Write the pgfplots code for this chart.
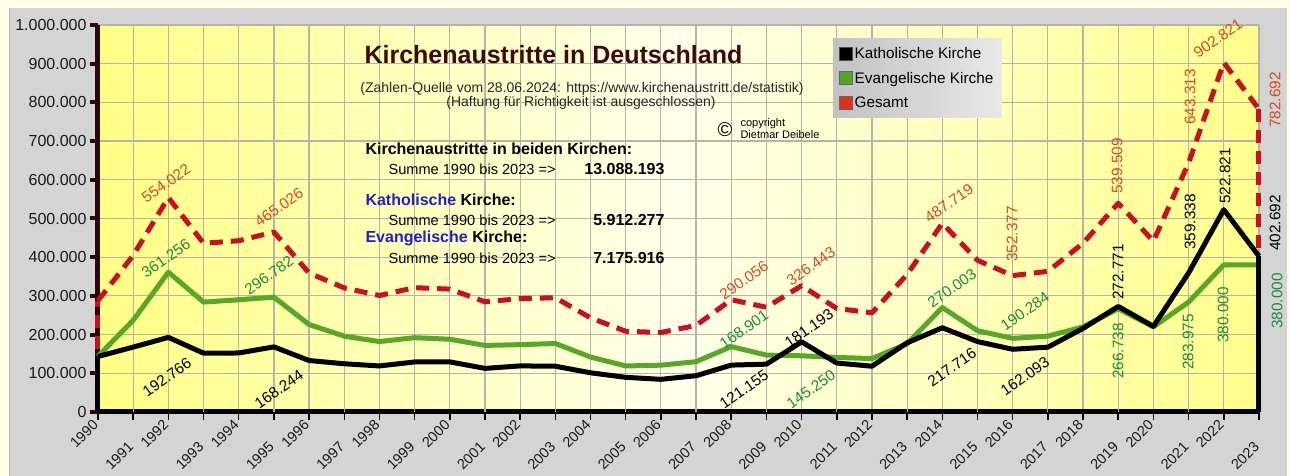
\documentclass[border=0pt]{standalone}
\usepackage{pgfplots}
\pgfplotsset{compat=1.18}
\usepackage{fontspec}
\setmainfont{Liberation Sans}
\definecolor{cream}{HTML}{FFFDE6}
\definecolor{panel}{HTML}{D4D4D4}
\definecolor{panelborder}{HTML}{A8B8C8}
\definecolor{evline}{HTML}{5AA628}
\definecolor{redline}{HTML}{C8101E}
\definecolor{redlab}{HTML}{D24B23}
\definecolor{greenlab}{HTML}{1E8A3A}
\definecolor{axisbrown}{HTML}{2A0606}
\definecolor{gridc}{HTML}{B4B4A8}
\definecolor{titlec}{HTML}{3C0A0A}
\definecolor{bluek}{HTML}{2020C8}
\definecolor{tickc}{HTML}{1A1A1A}
\definecolor{legred}{HTML}{E0301A}
\definecolor{leggreen}{HTML}{52A62A}

\pgfplotstableread{
year kath ev ges
1990 143.530 144.143 287.673
1991 167.657 237.000 404.657
1992 192.766 361.256 554.022
1993 152.000 284.000 436.000
1994 152.500 290.000 442.500
1995 168.244 296.782 465.026
1996 133.000 226.000 359.000
1997 124.600 196.000 320.600
1998 119.000 182.000 301.000
1999 129.300 192.000 321.300
2000 129.500 188.000 317.500
2001 112.700 172.000 284.700
2002 119.100 174.000 293.100
2003 118.300 177.000 295.300
2004 101.300 142.000 243.300
2005 89.600 119.000 208.600
2006 84.400 121.000 205.400
2007 93.700 130.000 223.700
2008 121.155 168.901 290.056
2009 123.600 147.000 270.600
2010 181.193 145.250 326.443
2011 126.500 141.000 267.500
2012 118.300 138.000 256.300
2013 178.800 176.600 355.400
2014 217.716 270.003 487.719
2015 181.900 210.000 391.900
2016 162.093 190.284 352.377
2017 167.500 196.000 363.500
2018 216.100 220.000 436.100
2019 272.771 266.738 539.509
2020 221.400 220.000 441.400
2021 359.338 283.975 643.313
2022 522.821 380.000 902.821
2023 402.692 380.000 782.692
}\datatable

\begin{document}
\begin{tikzpicture}
\useasboundingbox (-98pt,-64pt) rectangle (1192pt,412pt);
\fill[cream] (-98pt,-64pt) rectangle (1192pt,412pt);
\fill[panel] (-88pt,-64pt) rectangle (1189pt,404pt);
\draw[panelborder, line width=1pt] (-88pt,-64pt) -- (-88pt,404pt);
\begin{axis}[
  at={(0pt,0pt)}, anchor=south west,
  scale only axis, width=1161pt, height=387pt,
  xmin=1990, xmax=2023, ymin=0, ymax=1000,
  axis x line*=bottom, axis y line*=left,
  axis line style={-},
  x axis line style={-, line width=5pt, black},
  y axis line style={-, line width=5pt, axisbrown},
  xtick={1990,1992,...,2022},
  xticklabels={1990,1992,1994,1996,1998,2000,2002,2004,2006,2008,2010,2012,2014,2016,2018,2020,2022},
  extra x ticks={1991,1993,...,2023},
  extra x tick labels={1991,1993,1995,1997,1999,2001,2003,2005,2007,2009,2011,2013,2015,2017,2019,2021,2023},
  extra x tick style={grid=major, xticklabel style={xshift=-15.6pt, yshift=-15.6pt}},
  ytick={0,100,...,1000},
  yticklabels={0,100.000,200.000,300.000,400.000,500.000,600.000,700.000,800.000,900.000,1.000.000},
  grid=major,
  major grid style={gridc, line width=1.2pt},
  tick align=outside,
  major tick length=8pt,
  ytick style={line width=4pt, axisbrown},
  xtick style={line width=1.5pt, black},
  yticklabel style={font=\fontsize{16}{16}\selectfont, text=tickc},
  xticklabel style={font=\fontsize{14.5}{14.5}\selectfont, rotate=45, anchor=east, text=tickc},
  axis background/.style={left color=yellow!48!white, right color=yellow!45!white, middle color=yellow!8!white},
  clip=false,
  legend style={at={(0.633,0.966)}, anchor=north west, draw=none,
    left color=black!24, right color=black!9,
    font=\fontsize{15.3}{17}\selectfont, inner xsep=6pt, inner ysep=7pt, row sep=8pt},
  legend cell align=left,
]
\addplot[evline, line width=5pt, line join=round, forget plot] table[x=year, y=ev] {\datatable};
\addplot[redline, line width=5pt, dash pattern=on 13pt off 8pt, line join=round, forget plot] coordinates {(1990,0) (1990,287.673)};
\addplot[redline, line width=5pt, dash pattern=on 13pt off 8pt, line join=round, forget plot] table[x=year, y=ges] {\datatable};
\addplot[redline, line width=5pt, dash pattern=on 13pt off 8pt, forget plot] coordinates {(2023,782.692) (2023,0)};
\addplot[black, line width=5pt, forget plot] coordinates {(1990,0) (1990,143.530)};
\addplot[black, line width=5pt, line join=round, forget plot] table[x=year, y=kath] {\datatable};
\addplot[black, line width=5pt, forget plot] coordinates {(2023,402.692) (2023,0)};
\addlegendimage{legend image code/.code={\filldraw[fill=black, draw=black!70, line width=0.6pt, solid] (0pt,-6.5pt) rectangle (13pt,6.5pt);}}
\addlegendentry{Katholische Kirche}
\addlegendimage{legend image code/.code={\filldraw[fill=leggreen, draw=black!60, line width=0.6pt, solid] (0pt,-6.5pt) rectangle (13pt,6.5pt);}}
\addlegendentry{Evangelische Kirche}
\addlegendimage{legend image code/.code={\filldraw[fill=legred, draw=black!60, line width=0.6pt, solid] (0pt,-6.5pt) rectangle (13pt,6.5pt);}}
\addlegendentry{Gesamt}
\end{axis}
\begin{scope}[shift={(-98pt,412pt)}, x=1pt, y=-1pt]
\node[anchor=base west, text=titlec, font=\fontsize{25}{26}\selectfont\bfseries] at (361,64) {Kirchenaustritte in Deutschland};
\node[anchor=base, text=black!85, font=\fontsize{14}{15}\selectfont] at (582,93) {(Zahlen-Quelle vom 28.06.2024: https://www.kirchenaustritt.de/statistik)};
\node[anchor=base, text=black!85, font=\fontsize{14}{15}\selectfont] at (581,107) {(Haftung für Richtigkeit ist ausgeschlossen)};
\node[anchor=center, font=\fontsize{20}{20}\selectfont] at (725,130) {©};
\node[anchor=base west, font=\fontsize{11}{12}\selectfont] at (737,127) {copyright};
\node[anchor=base west, font=\fontsize{11}{12}\selectfont] at (737,139) {Dietmar Deibele};
\node[anchor=base west, font=\fontsize{16}{18}\selectfont\bfseries] at (362,155) {Kirchenaustritte in beiden Kirchen:};
\node[anchor=base west, font=\fontsize{14.6}{18}\selectfont] at (385,175) {Summe 1990 bis 2023 =>};
\node[anchor=base east, font=\fontsize{16}{18}\selectfont\bfseries] at (668,175) {13.088.193};
\node[anchor=base west, font=\fontsize{16}{18}\selectfont\bfseries] at (362,206) {\textcolor{bluek}{Katholische} Kirche:};
\node[anchor=base west, font=\fontsize{14.6}{18}\selectfont] at (385,226) {Summe 1990 bis 2023 =>};
\node[anchor=base east, font=\fontsize{16}{18}\selectfont\bfseries] at (668,226) {5.912.277};
\node[anchor=base west, font=\fontsize{16}{18}\selectfont\bfseries] at (362,243) {\textcolor{bluek}{Evangelische} Kirche:};
\node[anchor=base west, font=\fontsize{14.6}{18}\selectfont] at (385,264) {Summe 1990 bis 2023 =>};
\node[anchor=base east, font=\fontsize{16}{18}\selectfont\bfseries] at (668,264) {7.175.916};
\begin{scope}[every node/.style={text=redlab, font=\fontsize{15.3}{16}\selectfont, inner sep=0pt}]
\node[rotate=35] at (166,183) {554.022};
\node[rotate=35] at (279,207) {465.026};
\node[rotate=35] at (744,280) {290.056};
\node[rotate=35] at (811,266) {326.443};
\node[rotate=35] at (949,203) {487.719};
\node[rotate=35] at (1218,38) {902.821};
\node[rotate=90] at (1012,234) {352.377};
\node[rotate=90] at (1117,166) {539.509};
\node[rotate=90] at (1190,97) {643.313};
\node[rotate=90] at (1275,100) {782.692};
\end{scope}
\begin{scope}[every node/.style={text=greenlab, font=\fontsize{15.3}{16}\selectfont, inner sep=0pt}]
\node[rotate=35] at (166,258) {361.256};
\node[rotate=35] at (269,275) {296.782};
\node[rotate=35] at (744,329) {168.901};
\node[rotate=35] at (811,389) {145.250};
\node[rotate=35] at (952,288) {270.003};
\node[rotate=35] at (1025,311) {190.284};
\node[rotate=90] at (1118,351) {266.738};
\node[rotate=90] at (1188,342) {283.975};
\node[rotate=90] at (1223,315) {380.000};
\node[rotate=90] at (1277,301) {380.000};
\end{scope}
\begin{scope}[every node/.style={text=black, font=\fontsize{15.3}{16}\selectfont, inner sep=0pt}]
\node[rotate=35] at (167,377) {192.766};
\node[rotate=35] at (279,389) {168.244};
\node[rotate=35] at (744,389) {121.155};
\node[rotate=35] at (809,328) {181.193};
\node[rotate=35] at (952,367) {217.716};
\node[rotate=35] at (1025,376) {162.093};
\node[rotate=90] at (1225,176) {522.821};
\node[rotate=90] at (1190,222) {359.338};
\node[rotate=90] at (1275,223) {402.692};
\node[rotate=90] at (1118,272) {272.771};
\end{scope}
\end{scope}
\end{tikzpicture}
\end{document}
